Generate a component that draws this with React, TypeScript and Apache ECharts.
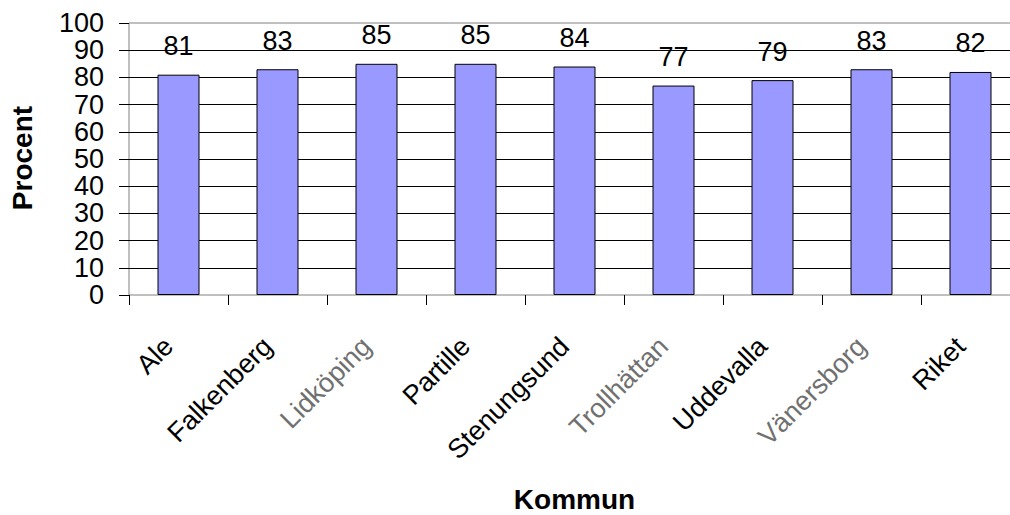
import React, { useEffect, useRef } from "react";
import * as echarts from "echarts";

const categories = [
  "Ale",
  "Falkenberg",
  "Lidköping",
  "Partille",
  "Stenungsund",
  "Trollhättan",
  "Uddevalla",
  "Vänersborg",
  "Riket",
];
const values = [81, 83, 85, 85, 84, 77, 79, 83, 82];
const fadedLabels = ["Lidköping", "Trollhättan", "Vänersborg"];
const yTitle = "Procent";
const xTitle = "Kommun";

const FONT = "'Liberation Sans', Arial, Helvetica, sans-serif";

export default function App() {
  const ref = useRef<HTMLDivElement>(null);

  useEffect(() => {
    if (!ref.current) return;
    const chart = echarts.init(ref.current, undefined, { renderer: "svg" });
    chart.setOption({
      animation: false,
      backgroundColor: "#ffffff",
      textStyle: { fontFamily: FONT },
      grid: {
        left: 129,
        top: 23,
        width: 891,
        height: 272,
        show: true,
        borderColor: "#808080",
        borderWidth: 1,
        backgroundColor: "transparent",
        containLabel: false,
        outerBoundsMode: "none",
      },
      xAxis: {
        type: "category",
        data: categories,
        boundaryGap: true,
        axisLine: { show: false },
        axisTick: {
          show: true,
          length: 10,
          interval: 0,
          lineStyle: { color: "#000000", width: 1 },
        },
        axisLabel: {
          interval: 0,
          rotate: 45,
          margin: 37,
          padding: [0, 14, 0, 0],
          fontSize: 27,
          color: "#000000",
          fontFamily: FONT,
          formatter: (v: string) => (fadedLabels.includes(v) ? `{g|${v}}` : v),
          rich: {
            g: { color: "#707070", fontSize: 27, fontFamily: FONT },
          },
        },
        splitLine: { show: false },
        name: xTitle,
        nameLocation: "middle",
        nameGap: 190,
        nameTextStyle: {
          fontSize: 28,
          fontWeight: "bold",
          color: "#000000",
          fontFamily: FONT,
        },
      },
      yAxis: {
        type: "value",
        min: 0,
        max: 100,
        interval: 10,
        axisLine: { show: false },
        axisTick: {
          show: true,
          length: 10,
          lineStyle: { color: "#000000", width: 1 },
        },
        axisLabel: {
          margin: 25,
          fontSize: 27,
          color: "#000000",
          fontFamily: FONT,
        },
        splitLine: {
          show: true,
          showMinLine: false,
          showMaxLine: false,
          lineStyle: { color: "#000000", width: 1 },
        },
      },
      graphic: [
        {
          type: "text",
          x: 22.5,
          y: 158,
          rotation: Math.PI / 2,
          style: {
            text: yTitle,
            font: `bold 28px ${FONT}`,
            fill: "#000000",
            textAlign: "center",
            textVerticalAlign: "middle",
          },
        },
      ],
      series: [
        {
          type: "bar",
          data: values,
          barWidth: 42,
          itemStyle: {
            color: "#9999FF",
            borderColor: "#000000",
            borderWidth: 1,
          },
          label: {
            show: true,
            position: "top",
            distance: 15,
            fontSize: 27,
            color: "#000000",
            fontFamily: FONT,
          },
        },
      ],
    });
    return () => chart.dispose();
  }, []);

  return (
    <div
      ref={ref}
      style={{ position: "fixed", left: 0, top: 0, width: 1010, height: 515, background: "#fff" }}
    />
  );
}
